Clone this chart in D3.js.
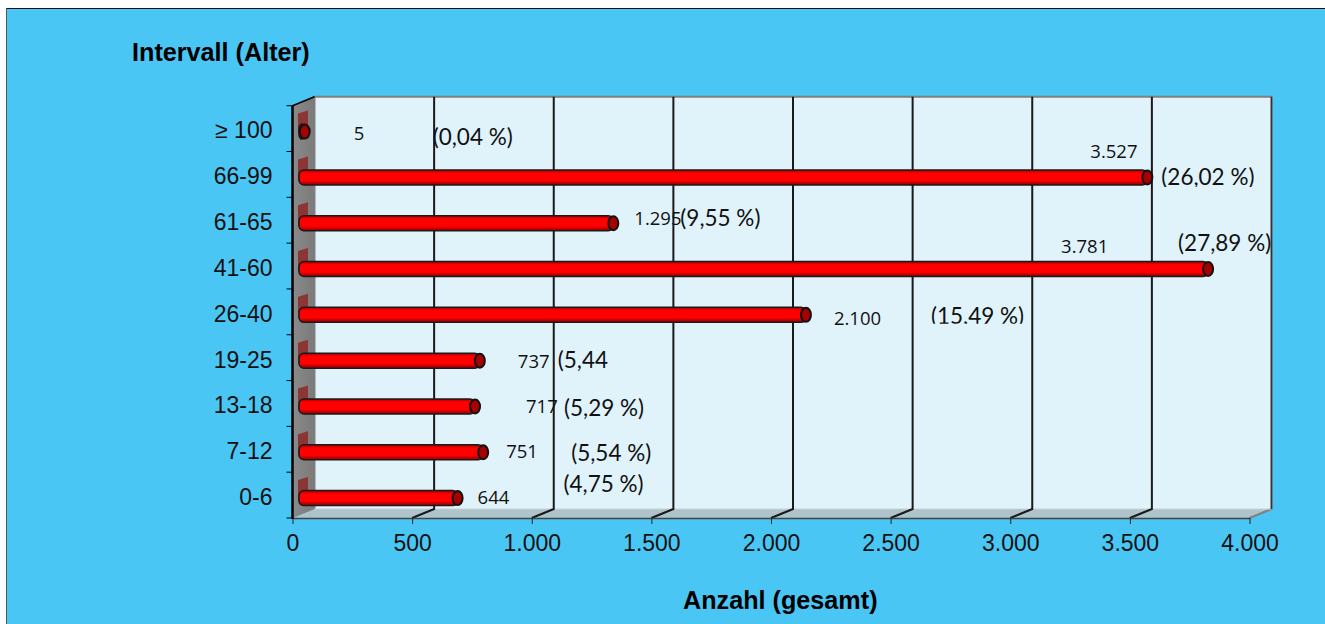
<!DOCTYPE html>
<html>
<head>
<meta charset="utf-8">
<script src="https://cdn.jsdelivr.net/npm/d3@7"></script>
<style>
  html, body { margin: 0; padding: 0; background: #fff; overflow: hidden; }
  svg { display: block; }
  .axis text { font-family: "Liberation Sans", Arial, sans-serif; font-size: 23px; fill: #111; }
  .title { font-family: "Liberation Sans", Arial, sans-serif; font-size: 25.2px; font-weight: bold; fill: #000; }
  .count { font-family: "Open Sans", sans-serif; font-size: 18.5px; fill: #111; }
  .pct { font-family: "Lato", sans-serif; font-size: 22.5px; fill: #111; }
</style>
</head>
<body>
<div id="chart"></div>
<script>
var categories = ["0-6", "7-12", "13-18", "19-25", "26-40", "41-60", "61-65", "66-99", "\u2265 100"];
var values = [644, 751, 717, 737, 2100, 3781, 1295, 3527, 5];
var percentLabels = ["(4,75 %)", "(5,54 %)", "(5,29 %)", "(5,44", "(15,49 %)", "(27,89 %)", "(9,55 %)", "(26,02 %)", "(0,04 %)"];
var xTicks = [0, 500, 1000, 1500, 2000, 2500, 3000, 3500, 4000];

// hand placed labels in the original, offset from the bar end / band centre
var countNudge = [[31, 9], [34, 9], [62, 10], [49, 10], [39, 13], [-136, -13], [32, 5], [-46, -16], [60, 11]];
var pctNudge = [[117, -3], [99, 12], [100, 13], [89, 10], [136, 12], [-19, -15], [78, 6], [25, 11], [139, 16]];
// some labels are cut off at the bottom by their text box (index -> y limit relative to band centre)
var pctClip = { 4: 11.8, 7: 12.5 };
var countClip = { 4: 13.5 };

var width = 1325, height = 624;
var depthX = 22, depthY = 9;
var plotLeft = 292.5, plotRight = 1249.5, plotBottom = 518, plotTop = 105.7;

var svg = d3.select("#chart").append("svg")
    .attr("width", width)
    .attr("height", height);

// Scales
var xScale = d3.scaleLinear().domain([0, 4000]).range([plotLeft, plotRight]);
var yScale = d3.scaleBand().domain(categories).range([plotBottom, plotTop]);
var yBand = yScale.bandwidth();

// Gradient for the bars
var defs = svg.append("defs");
var grad = defs.append("linearGradient")
    .attr("id", "barGrad")
    .attr("x1", 0).attr("y1", 0).attr("x2", 0).attr("y2", 1);
grad.append("stop").attr("offset", "0%").attr("stop-color", "#a80000");
grad.append("stop").attr("offset", "22%").attr("stop-color", "#ff0000");
grad.append("stop").attr("offset", "70%").attr("stop-color", "#ff0000");
grad.append("stop").attr("offset", "100%").attr("stop-color", "#8c0000");

var wallGrad = defs.append("linearGradient")
    .attr("id", "sideGrad")
    .attr("x1", 0).attr("y1", 0).attr("x2", 1).attr("y2", 0);
wallGrad.append("stop").attr("offset", "0%").attr("stop-color", "#8a8a8a");
wallGrad.append("stop").attr("offset", "100%").attr("stop-color", "#7a7a7a");

// Background
svg.append("rect")
    .attr("x", 6).attr("y", 8)
    .attr("width", width - 6).attr("height", height - 8)
    .attr("fill", "#4ac6f5");
svg.append("line").attr("x1", 6).attr("x2", width).attr("y1", 8.5).attr("y2", 8.5).attr("stroke", "#111").attr("stroke-width", 1);
svg.append("line").attr("x1", 6.5).attr("x2", 6.5).attr("y1", 8).attr("y2", height).attr("stroke", "#555").attr("stroke-width", 1);

// Back wall
svg.append("rect")
    .attr("x", plotLeft + depthX).attr("y", plotTop - depthY)
    .attr("width", plotRight - plotLeft)
    .attr("height", plotBottom - plotTop)
    .attr("fill", "#e0f3fb");

// Floor
svg.append("polygon")
    .attr("points", [[plotLeft, plotBottom], [plotLeft + depthX, plotBottom - depthY], [plotRight + depthX, plotBottom - depthY], [plotRight, plotBottom]].join(" "))
    .attr("fill", "#aec3ca");

// Side wall
svg.append("polygon")
    .attr("points", [[plotLeft, plotBottom], [plotLeft, plotTop], [plotLeft + depthX, plotTop - depthY], [plotLeft + depthX, plotBottom - depthY]].join(" "))
    .attr("fill", "url(#sideGrad)");

// Wall outline
svg.append("path")
    .attr("d", "M" + (plotLeft + depthX) + "," + (plotBottom - depthY) + "V" + (plotTop - depthY) + "H" + (plotRight + depthX) + "V" + (plotBottom - depthY) + "L" + plotRight + "," + plotBottom)
    .attr("fill", "none")
    .attr("stroke", "#808080")
    .attr("stroke-width", 2);
svg.append("line")
    .attr("x1", plotLeft + depthX).attr("x2", plotRight + depthX)
    .attr("y1", plotBottom - depthY).attr("y2", plotBottom - depthY)
    .attr("stroke", "#c9d3d6").attr("stroke-width", 1);

// Grid lines, up the wall and across the floor
svg.selectAll(".grid")
    .data(xTicks.slice(1, -1))
    .enter()
    .append("path")
    .attr("class", "grid")
    .attr("d", function (d) {
        var x = xScale(d);
        return "M" + x + "," + plotBottom + "L" + (x + depthX) + "," + (plotBottom - depthY) + "V" + (plotTop - depthY);
    })
    .attr("fill", "none")
    .attr("stroke", "#1a1a1a")
    .attr("stroke-width", 2);
svg.append("line")
    .attr("x1", plotRight + depthX).attr("x2", plotRight + depthX)
    .attr("y1", plotTop - depthY).attr("y2", plotBottom - depthY)
    .attr("stroke", "#333").attr("stroke-width", 1.5);

// Bar shadows on the side wall
var rows = categories.map(function (c, i) {
    return { cat: c, val: values[i], pct: percentLabels[i], i: i };
});
function barY(d) { return yScale(d.cat) + yBand / 2 + 3; }

svg.selectAll(".shadow")
    .data(rows)
    .enter()
    .append("polygon")
    .attr("class", "shadow")
    .attr("points", function (d) {
        var y = barY(d);
        return [[plotLeft + 5.5, y - 18], [plotLeft + 15.5, y - 21], [plotLeft + 15.5, y], [plotLeft + 5.5, y + 3]].join(" ");
    })
    .attr("fill", "#8b3535");

// Axes
var locale = d3.formatLocale({ decimal: ",", thousands: ".", grouping: [3], currency: ["", ""] });
var xAxis = svg.append("g")
    .attr("class", "axis")
    .attr("transform", "translate(0," + plotBottom + ")")
    .call(d3.axisBottom(xScale).tickValues(xTicks).tickFormat(locale.format(",")).tickSize(6).tickPadding(11).tickSizeOuter(0));
xAxis.select(".domain").attr("stroke", "#444").attr("stroke-width", 1.5);
xAxis.selectAll(".tick line").attr("stroke", "#222");

var yAxis = svg.append("g")
    .attr("class", "axis")
    .attr("transform", "translate(" + plotLeft + ",2.5)")
    .call(d3.axisLeft(yScale).tickSize(0).tickPadding(20));
yAxis.select(".domain").remove();

// Value axis line on the front edge, with ticks between the bands
svg.append("line")
    .attr("x1", plotLeft).attr("x2", plotLeft)
    .attr("y1", plotTop).attr("y2", plotBottom + 1)
    .attr("stroke", "#000").attr("stroke-width", 2.5);
svg.append("line")
    .attr("x1", plotLeft).attr("x2", plotLeft + depthX)
    .attr("y1", plotTop).attr("y2", plotTop - depthY)
    .attr("stroke", "#000").attr("stroke-width", 1.5);
svg.selectAll(".ytick")
    .data(categories.concat(["end"]))
    .enter()
    .append("line")
    .attr("class", "ytick")
    .attr("x1", plotLeft - 6).attr("x2", plotLeft)
    .attr("y1", function (d, i) { return plotBottom - i * yBand; })
    .attr("y2", function (d, i) { return plotBottom - i * yBand; })
    .attr("stroke", "#000");

// Bars
var bars = svg.selectAll(".bar")
    .data(rows)
    .enter()
    .append("g")
    .attr("class", "bar");
bars.append("rect")
    .attr("x", plotLeft + 6.5)
    .attr("y", function (d) { return barY(d) - 7.5; })
    .attr("width", function (d) { return xScale(d.val) + 11 - plotLeft - 6.5; })
    .attr("height", 15)
    .attr("rx", 5)
    .attr("fill", "url(#barGrad)")
    .attr("stroke", "#1a1a1a")
    .attr("stroke-width", 1.5);
bars.append("ellipse")
    .attr("cx", function (d) { return xScale(d.val) + 11; })
    .attr("cy", barY)
    .attr("rx", 5)
    .attr("ry", 7)
    .attr("fill", "#a80000")
    .attr("stroke", "#111")
    .attr("stroke-width", 2);

// Labels
function centre(d) { return yScale(d.cat) + yBand / 2; }

function clipFor(d, limits, prefix) {
    if (limits[d.i] === undefined) return null;
    var id = prefix + d.i;
    defs.append("clipPath").attr("id", id)
        .append("rect")
        .attr("x", 0).attr("y", 0)
        .attr("width", width)
        .attr("height", centre(d) + limits[d.i]);
    return "url(#" + id + ")";
}

svg.selectAll(".count")
    .data(rows)
    .enter()
    .append("text")
    .attr("class", "count")
    .attr("x", function (d) { return xScale(d.val) + countNudge[d.i][0]; })
    .attr("y", function (d) { return centre(d) + countNudge[d.i][1]; })
    .attr("clip-path", function (d) { return clipFor(d, countClip, "cc"); })
    .text(function (d) { return locale.format(",")(d.val); });

svg.selectAll(".pct")
    .data(rows)
    .enter()
    .append("text")
    .attr("class", "pct")
    .attr("x", function (d) { return xScale(d.val) + pctNudge[d.i][0]; })
    .attr("y", function (d) { return centre(d) + pctNudge[d.i][1]; })
    .attr("clip-path", function (d) { return clipFor(d, pctClip, "pc"); })
    .text(function (d) { return d.pct; });

// Axis titles
svg.append("text").attr("class", "title").attr("x", 132).attr("y", 61).text("Intervall (Alter)");
svg.append("text").attr("class", "title").attr("x", 683).attr("y", 609).text("Anzahl (gesamt)");
</script>
</body>
</html>
